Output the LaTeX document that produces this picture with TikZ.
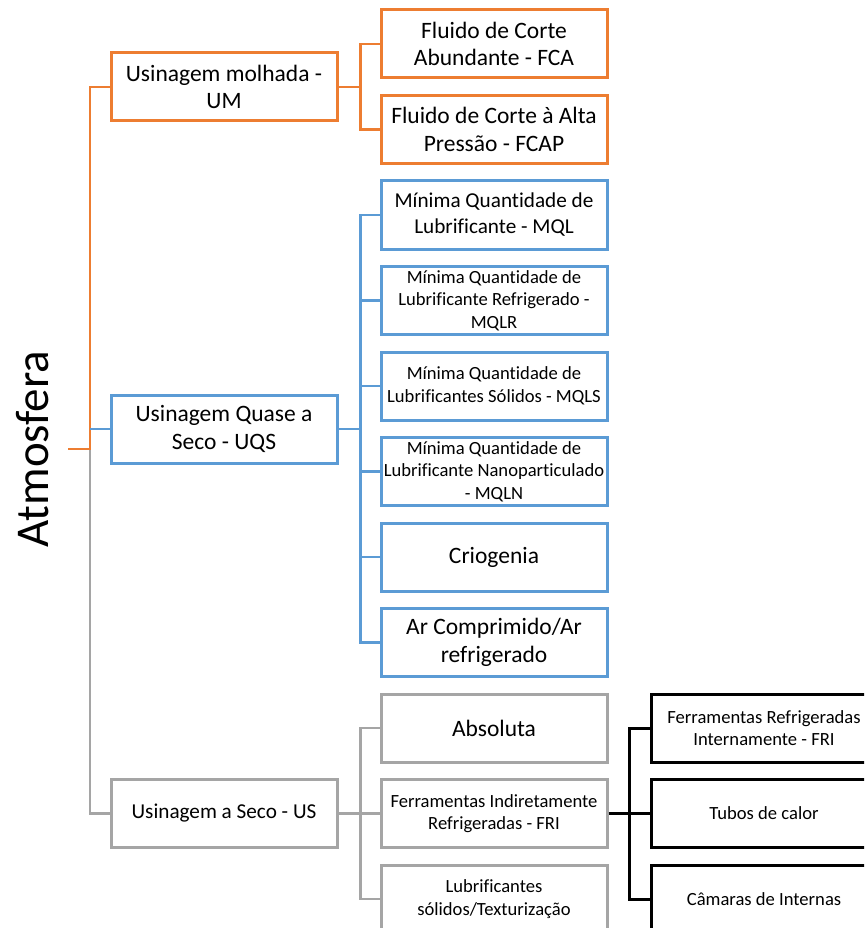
\documentclass[tikz,border=0pt]{standalone}
\usepackage{fontspec}
\setmainfont{Carlito}[Ligatures=NoCommon]
\definecolor{cOr}{HTML}{ED7D31}
\definecolor{cBl}{HTML}{5B9BD5}
\definecolor{cGr}{HTML}{A5A5A5}
\newcommand\fsL{\fontsize{23.5}{27.5}\selectfont}
\newcommand\fsM{\fontsize{21.2}{26}\selectfont}
\newcommand\fsS{\fontsize{18.6}{22.5}\selectfont}
\newcommand\fsR{\fontsize{47}{56}\selectfont}
\begin{document}
\begin{tikzpicture}[x=1pt,y=-1pt,
  box/.style={rectangle, minimum width=226pt, minimum height=68pt, inner sep=0pt,
    align=center, fill=white, line width=3pt, text=black},
  ob/.style={box, draw=cOr}, bb/.style={box, draw=cBl},
  gb/.style={box, draw=cGr}, kb/.style={box, draw=black},
  txtL/.style={font=\fsL}, txtM/.style={font=\fsM}, txtS/.style={font=\fsS},
  oline/.style={draw=cOr, line width=2.5pt},
  bline/.style={draw=cBl, line width=2.5pt},
  gline/.style={draw=cGr, line width=2.5pt},
  kline/.style={draw=black, line width=3pt}]
\useasboundingbox (0,0) rectangle (864,928);
\begin{scope}
\clip (0,0) rectangle (864,928);
% root
\node[rotate=90, anchor=base, font=\fsR] (root) at (48,449) {Atmosfera};
\coordinate (rootend) at (68,449);
\coordinate (j0) at (90,449);
% level 1
\node[ob, txtL] (um)  at (224,87)    {Usinagem molhada -\\UM};
\node[bb, txtL] (uqs) at (224,429)   {Usinagem Quase a\\Seco - UQS};
\node[gb, txtM] (us)  at (224,813.5) {Usinagem a Seco - US};
% level 2
\node[ob, txtL] (fca)  at (494,44)    {Fluido de Corte\\Abundante - FCA};
\node[ob, txtL] (fcap) at (494,129.5) {Fluido de Corte à Alta\\Pressão - FCAP};
\node[bb, txtM] (mql)  at (494,215)   {Mínima Quantidade de\\Lubrificante - MQL};
\node[bb, txtS] (mqlr) at (494,300.5) {Mínima Quantidade de\\Lubrificante Refrigerado -\\MQLR};
\node[bb, txtS] (mqls) at (494,386)   {Mínima Quantidade de\\Lubrificantes Sólidos - MQLS};
\node[bb, txtS] (mqln) at (494,471.5) {Mínima Quantidade de\\Lubrificante Nanoparticulado\\- MQLN};
\node[bb, txtL] (crio) at (494,557)   {Criogenia};
\node[bb, txtL] (ar)   at (494,642.5) {Ar Comprimido/Ar\\refrigerado};
\node[gb, txtL] (abs)  at (494,728)   {Absoluta};
\node[gb, txtS] (fri)  at (494,813.5) {Ferramentas Indiretamente\\Refrigeradas - FRI};
\node[gb, txtS] (lub)  at (494,899)   {Lubrificantes\\sólidos/Texturização};
% level 3
\node[kb, txtS] (frin) at (764,728)   {Ferramentas Refrigeradas\\Internamente - FRI};
\node[kb, txtS] (tub)  at (764,813.5) {Tubos de calor};
\node[kb, txtS] (cam)  at (764,899)   {Câmaras de Internas};
% junctions
\path (um.east)  ++(22,0) coordinate (oj);
\path (uqs.east) ++(22,0) coordinate (bj);
\path (us.east)  ++(22,0) coordinate (gj);
\path (fri.east) ++(21,0) coordinate (kj);
% root connectors
\draw[gline] (j0) |- (us.west);
\draw[oline] (rootend) -- (j0) |- (um.west);
\draw[bline] (j0 |- uqs.west) -- (uqs.west);
% orange
\draw[oline] (um.east) -- (oj);
\draw[oline] (fca.west) -| (oj) |- (fcap.west);
% blue
\draw[bline] (uqs.east) -- (bj);
\draw[bline] (mql.west) -| (bj) |- (ar.west);
\draw[bline] (bj |- mqlr.west) -- (mqlr.west);
\draw[bline] (bj |- mqls.west) -- (mqls.west);
\draw[bline] (bj |- mqln.west) -- (mqln.west);
\draw[bline] (bj |- crio.west) -- (crio.west);
% gray
\draw[gline] (us.east) -- (gj);
\draw[gline] (abs.west) -| (gj) |- (lub.west);
\draw[gline] (gj) -- (fri.west);
% black
\draw[kline] (fri.east) -- (kj);
\draw[kline] (frin.west) -| (kj) |- (cam.west);
\draw[kline] (kj) -- (tub.west);
\end{scope}
\end{tikzpicture}
\end{document}
